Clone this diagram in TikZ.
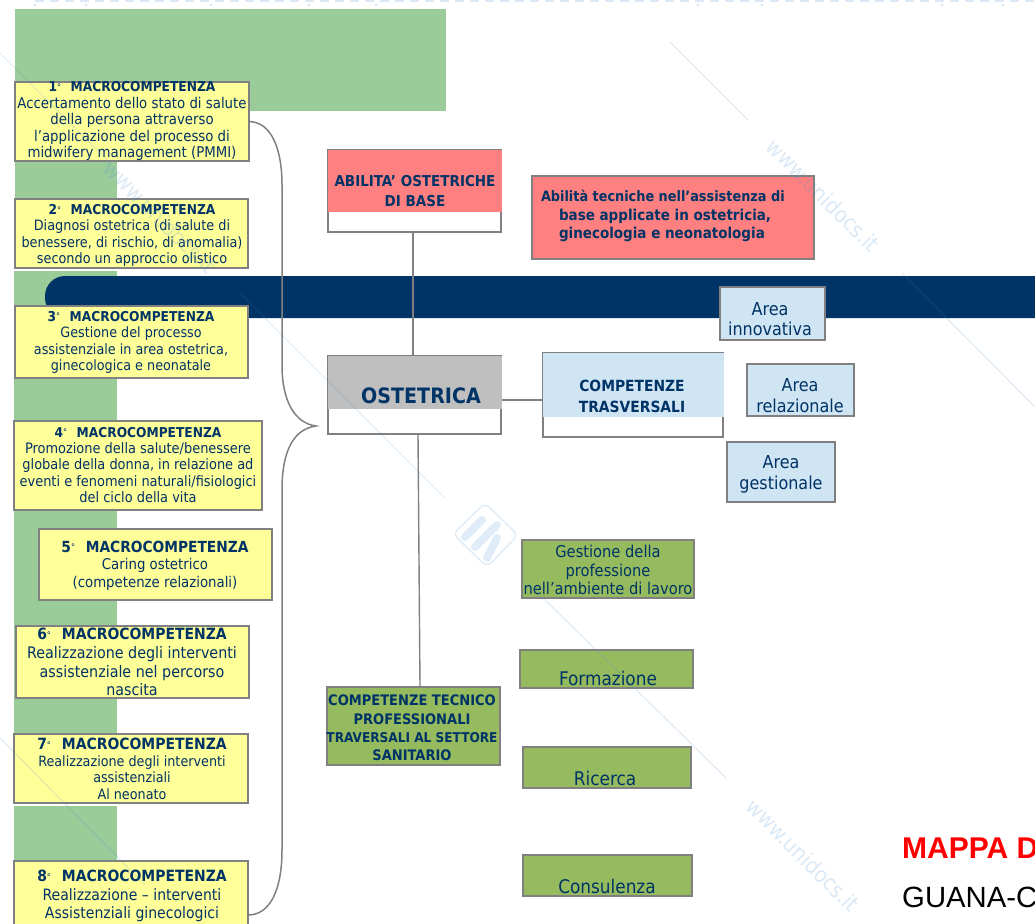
\documentclass[tikz,border=0pt]{standalone}
\usepackage{fontspec}
\setmainfont{DejaVu Sans Condensed}
\newfontfamily\arialf{Liberation Sans}
\usetikzlibrary{calc}
\definecolor{navy}{HTML}{003366}
\definecolor{wgreen}{HTML}{99CC99}
\definecolor{lyellow}{HTML}{FFFF99}
\definecolor{bord}{HTML}{808080}
\definecolor{lred}{HTML}{FF8080}
\definecolor{lblue}{HTML}{CFE5F3}
\definecolor{lgreen}{HTML}{95BB5E}
\definecolor{lgray}{HTML}{BFBFBF}
\definecolor{wm}{HTML}{4A90D0}
\newcommand\TF[2]{\fontsize{#1}{#2}\selectfont}
\tikzset{
  bx/.style={draw=bord,line width=1.7pt,inner sep=0pt,outer sep=0pt,anchor=north west},
  hd/.style={inner sep=0pt,outer sep=0pt,anchor=north west},
  tx/.style={inner sep=0pt,outer sep=0pt,align=center,text=navy},
  yb/.style={bx,fill=lyellow},
  bb/.style={bx,fill=lblue},
  gb/.style={bx,fill=lgreen},
  conn/.style={draw=bord,line width=1.4pt},
  wml/.style={draw=wm,opacity=.2,line width=1pt},
  wmb/.style={draw=wm,opacity=.17,line width=8pt,line cap=round},
  wmt/.style={text=wm,opacity=.2,rotate=-45,inner sep=0pt,font=\TF{22}{22}},
}
\newcommand\BX[6]{\node[#6,minimum width={(#4-#2)*1pt},minimum height={(#5-#3)*1pt}] (#1) at (#2,#3) {};}
\newcommand\MC[2]{{\TF{#2}{#2}\bfseries #1{\mdseries\TF{9}{9}\raisebox{.15em}{°}}\hspace{.7em}MACROCOMPETENZA}}
\begin{document}
\begin{tikzpicture}[x=1pt,y=-1pt]
\useasboundingbox (0,0) rectangle (1035,923);
\clip (0,0) rectangle (1035,923);
% background blocks
\fill[wgreen] (15,9) rectangle (446,111);
\fill[wgreen] (15,162) rectangle (117,198);
\fill[wgreen] (14,271) rectangle (117,803);
\fill[wgreen] (14,806) rectangle (117,861);
\fill[navy,rounded corners=20pt] (1040,276) -- (45,276) -- (45,318) [sharp corners] -- (1040,318) -- cycle;
% boxes
\BX{m1}{15}{82}{249}{161}{yb}
\BX{m2}{15}{199}{248}{268}{yb}
\BX{m3}{15}{306}{248}{378}{yb}
\BX{m4}{14}{421}{262}{510}{yb}
\BX{m5}{39}{529}{272}{600}{yb}
\BX{m6}{16}{626}{249}{698}{yb}
\BX{m7}{14}{734}{248}{803}{yb}
\BX{m8}{14}{861}{248}{969}{yb}
% macro text
\node[tx,font=\TF{14.8}{16.5}] (t1) at (132,121) {\MC{1}{13.6}\\Accertamento dello stato di salute\\della persona attraverso\\l'applicazione del processo di\\midwifery management (PMMI)};
\node[tx,font=\TF{14.3}{16.3}] (t2) at (132,235.5) {\MC{2}{13.6}\\Diagnosi ostetrica (di salute di\\benessere, di rischio, di anomalia)\\secondo un approccio olistico};
\node[tx,font=\TF{14.2}{16.5}] (t3) at (131,342.5) {\MC{3}{13.6}\\Gestione del processo\\assistenziale in area ostetrica,\\ginecologica e neonatale};
\node[tx,font=\TF{14.4}{16.4}] (t4) at (138,465) {\MC{4}{13.6}\\Promozione della salute/benessere\\globale della donna, in relazione ad\\eventi e fenomeni naturali/fisiologici\\del ciclo della vita};
\node[tx,font=\TF{14.8}{17.5}] (t5) at (155,565.5) {\MC{5}{15.3}\\Caring ostetrico\\(competenze relazionali)};
\node[tx,font=\TF{15.9}{18.8}] (t6) at (132,662) {\MC{6}{15.5}\\Realizzazione degli interventi\\assistenziale nel percorso\\nascita};
\node[tx,font=\TF{14.2}{16.5}] (t7) at (132,769) {\MC{7}{15.5}\\Realizzazione degli interventi\\assistenziali\\Al neonato};
\node[tx,font=\TF{15.6}{18.5}] (t8) at (132,896) {\MC{8}{15.5}\\Realizzazione -- interventi\\Assistenziali ginecologici};
% central boxes
\BX{abil}{328}{150}{501}{232}{bx,fill=white}
\BX{abilh}{328}{150}{502}{212}{hd,fill=lred}
\node[tx,font=\TF{15}{20}\bfseries] (abilt) at (415,191) {ABILITA' OSTETRICHE\\DI BASE};
\BX{ost}{328}{356}{501}{434}{bx,fill=white}
\BX{osth}{328}{356}{502}{409}{hd,fill=lgray}
\node[tx,font=\TF{21.2}{22}\bfseries] (ostt) at (421,396) {OSTETRICA};
\BX{tra}{543}{353}{723}{437}{bx,fill=white}
\BX{trah}{543}{353}{724}{417}{hd,fill=lblue}
\node[tx,font=\TF{15.4}{21}\bfseries] (trat) at (632,396.5) {COMPETENZE\\TRASVERSALI};
\BX{tec}{327}{687}{500}{765}{gb}
\node[tx,font=\TF{14.5}{18.4}\bfseries] (tect) at (412,728) {COMPETENZE TECNICO\\PROFESSIONALI\\\TF{13.5}{18.4}TRAVERSALI AL SETTORE\\SANITARIO};
\BX{tecn}{532}{176}{814}{259}{bx,fill=lred}
\node[tx,anchor=west,align=left,font=\TF{14.3}{18.2}\bfseries] (tecnt) at (541,216) {Abilità tecniche nell'assistenza di\\\hspace*{18pt}\TF{15}{18.2}base applicate in ostetricia,\\\hspace*{18pt}\TF{15}{18.2}ginecologia e neonatologia};
\BX{a1}{720}{287}{825}{340}{bb}
\node[tx,font=\TF{17.8}{20}] (a1t) at (770,319) {Area\\innovativa};
\BX{a2}{747}{364}{854}{416}{bb}
\node[tx,font=\TF{17.8}{21}] (a2t) at (800,395.5) {Area\\relazionale};
\BX{a3}{727}{442}{835}{502}{bb}
\node[tx,font=\TF{17.8}{21}] (a3t) at (781,474) {Area\\gestionale};
\BX{g1}{522}{540}{694}{598}{gb}
\node[tx,font=\TF{16.3}{18.5}] (g1t) at (608,570) {Gestione della\\professione\\nell'ambiente di lavoro};
\BX{g2}{520}{650}{693}{688}{gb}
\node[tx,font=\TF{18.8}{18}] (g2t) at (608,678) {Formazione};
\BX{g3}{523}{747}{691}{788}{gb}
\node[tx,font=\TF{18.8}{18}] (g3t) at (605,778) {Ricerca};
\BX{g4}{523}{855}{692}{896}{gb}
\node[tx,font=\TF{18.8}{18}] (g4t) at (607,886) {Consulenza};
% connectors
\draw[conn] ([xshift=-1.5pt]abil.south) -- ([xshift=-1.5pt]ost.north);
\draw[conn] ([xshift=3.5pt]ost.south) -- ([xshift=6.5pt]tec.north);
\draw[conn] (osth.east |- 0,400) -- (trah.west |- 0,400);
\coordinate (tip) at (316,426);
\draw[conn,line width=1.5pt] (m1.east) .. controls (272,122) and (282,150) .. (282,185) -- (282,365) .. controls (282,400) and (294,423) .. (tip) .. controls (294,429) and (282,450) .. (282,490) -- (282,850) .. controls (282,890) and (270,915) .. (m8.east);
% title text
\node[anchor=base west,inner sep=0pt,text=red,font=\arialf\bfseries\TF{30}{30}] (map) at (902,858) {MAPPA D};
\node[anchor=base west,inner sep=0pt,font=\arialf\TF{29.3}{30}] (gua) at (902,907) {GUANA-C};
% watermark
\draw[wml] (0,53) -- (110,163);
\draw[wml] (240,293) -- (444,497);
\draw[wml] (530,585) -- (727,779);
\draw[wml] (670,42) -- (748,120);
\draw[wml] (902,273) -- (1035,407);
\draw[wml] (0,738) -- (145,885);
\node[wmt] (w1) at (160,217) {www.unidocs.it};
\node[wmt] (w2) at (823,195) {www.unidocs.it};
\node[wmt] (w3) at (803,855) {www.unidocs.it};
\draw[draw=wm,opacity=.17,line width=1.5pt,rounded corners=6pt] (485,503) -- (518,535) -- (487,567) -- (453,534) -- cycle;
\draw[wmb] (482,520) -- (465,537);
\draw[wmb] (497,525) -- (475,547);
\draw[wmb] (497,538) -- (487,558);
% clipped strip of pale marks at the top edge
\draw[draw=wm,opacity=.2,line width=3pt,dash pattern=on 9pt off 6pt] (35,0.5) -- (1035,0.5);
\foreach \dx in {35,86,211,309,376,698,762,942,1003}
  \fill[wm,opacity=.25] (\dx,5) circle (1.4);
\end{tikzpicture}
\end{document}
